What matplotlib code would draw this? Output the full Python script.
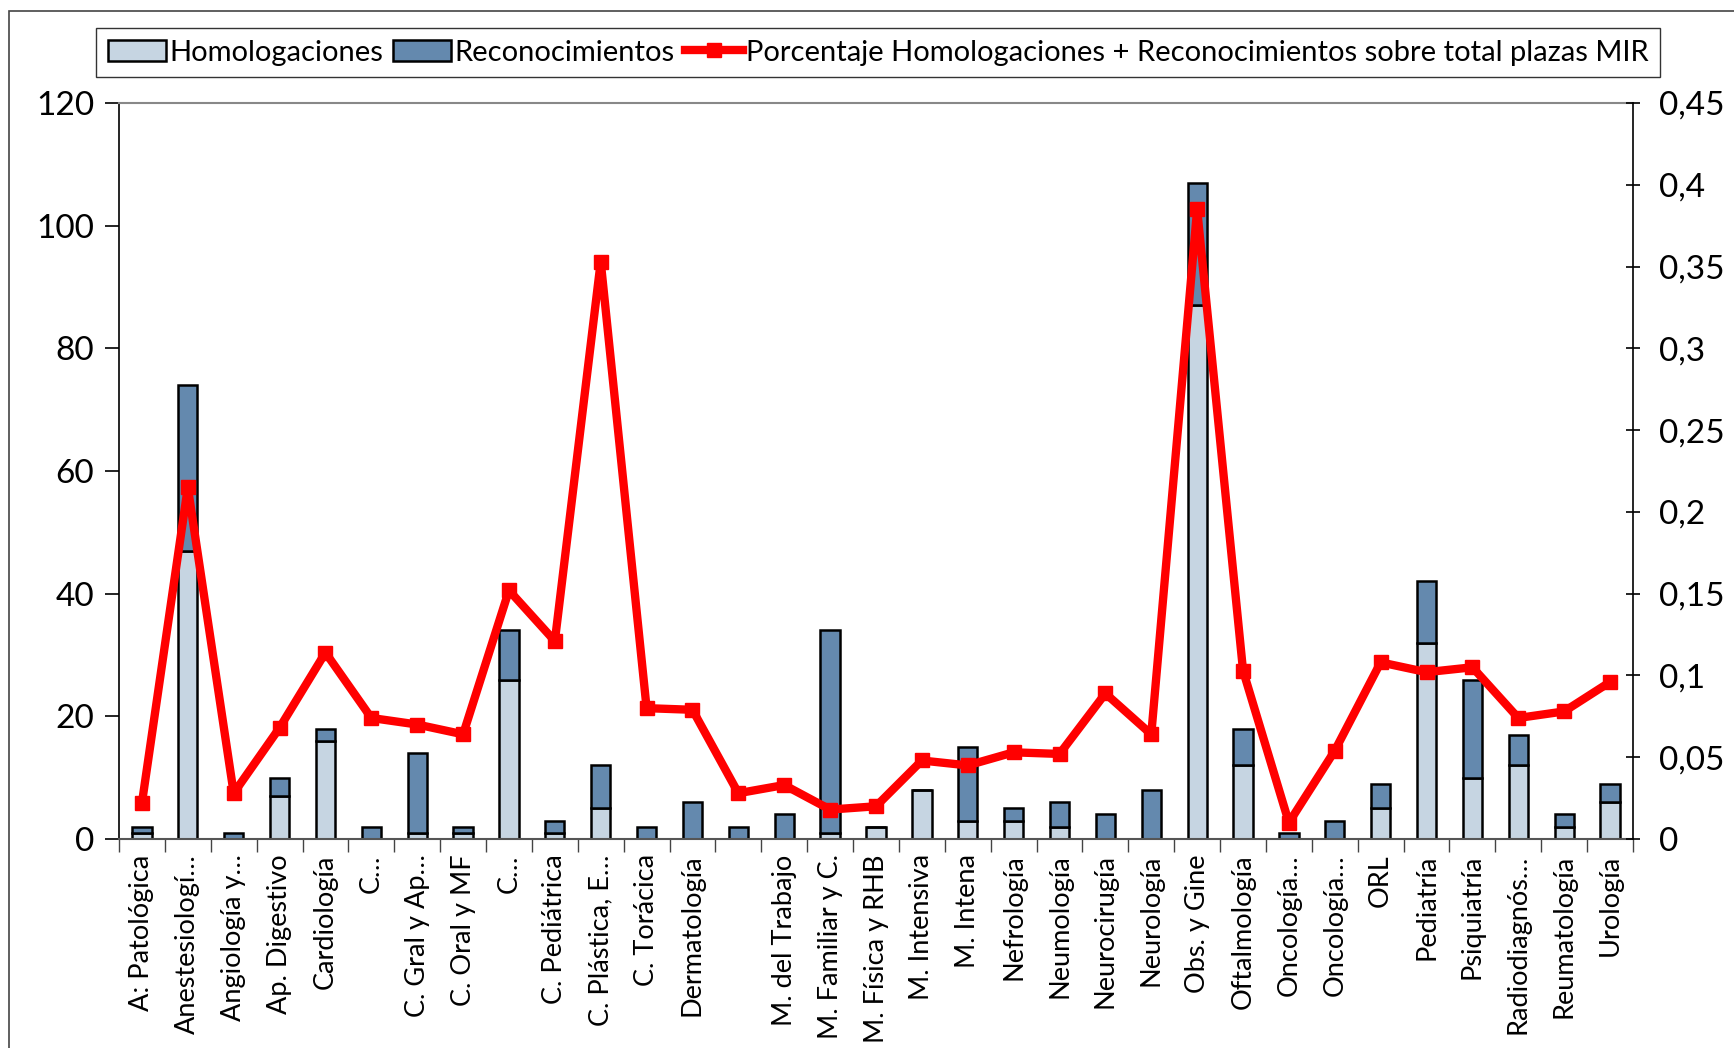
import numpy as np
import matplotlib
matplotlib.use("Agg")
import matplotlib.pyplot as plt
from matplotlib.patches import Rectangle
from matplotlib.lines import Line2D
from matplotlib.ticker import FuncFormatter

plt.rcParams['font.family'] = ['Lato', 'DejaVu Sans']

# Especialidades (etiquetas tal como aparecen, truncadas)
especialidades = [
    "A: Patológica", "Anestesiologí…", "Angiología y…", "Ap. Digestivo", "Cardiología",
    "C…", "C. Gral y Ap…", "C. Oral y MF", "C…", "C. Pediátrica",
    "C. Plástica, E…", "C. Torácica", "Dermatología", "", "M. del Trabajo",
    "M. Familiar y C.", "M. Física y RHB", "M. Intensiva", "M. Intena", "Nefrología",
    "Neumología", "Neurocirugía", "Neurología", "Obs. y Gine", "Oftalmología",
    "Oncología…", "Oncología…", "ORL", "Pediatría", "Psiquiatría",
    "Radiodiagnós…", "Reumatología", "Urología",
]

homologaciones = [1, 47, 0, 7, 16, 0, 1, 1, 26, 1,
                  5, 0, 0, 0, 0, 1, 2, 8, 3, 3,
                  2, 0, 0, 87, 12, 0, 0, 5, 32, 10,
                  12, 2, 6]

reconocimientos = [1, 27, 1, 3, 2, 2, 13, 1, 8, 2,
                   7, 2, 6, 2, 4, 33, 0, 0, 12, 2,
                   4, 4, 8, 20, 6, 1, 3, 4, 10, 16,
                   5, 2, 3]

porcentaje = [0.022, 0.215, 0.028, 0.068, 0.114, 0.074, 0.070, 0.064, 0.152, 0.121,
              0.353, 0.080, 0.079, 0.028, 0.033, 0.018, 0.020, 0.048, 0.045, 0.053,
              0.052, 0.089, 0.064, 0.385, 0.103, 0.010, 0.054, 0.108, 0.102, 0.105,
              0.074, 0.078, 0.096]

color_homo = "#C6D5E2"
color_reco = "#6489AE"

W, H = 1734, 1048
fig = plt.figure(figsize=(W / 100, H / 100), dpi=100)

# borde exterior del gráfico
fig.add_artist(Rectangle((9 / W, -0.05), 1.1, 1 - 11 / H + 0.05, transform=fig.transFigure,
                         fill=False, edgecolor="#444444", linewidth=1.2))

ax = fig.add_axes([119 / W, 1 - 839 / H, (1633 - 119) / W, (839 - 103) / H])
x = np.arange(len(especialidades))

ax.bar(x, homologaciones, width=0.42, color=color_homo, edgecolor="black", linewidth=1.8, zorder=2)
ax.bar(x, reconocimientos, width=0.42, bottom=homologaciones, color=color_reco,
       edgecolor="black", linewidth=1.8, zorder=2)

ax.set_xlim(-0.5, len(especialidades) - 0.5)
ax.set_ylim(0, 120)
ax.set_yticks(range(0, 121, 20))
ax.tick_params(axis="y", labelsize=24, length=10, width=1.2, pad=8, direction="out")

ax.set_xticks(x)
ax.set_xticklabels(especialidades, rotation=90, fontsize=19.5, va="top", ha="center")
ax.set_xticks(np.arange(-0.5, len(especialidades), 1), minor=True)
ax.tick_params(axis="x", which="major", length=0, pad=11)
ax.tick_params(axis="x", which="minor", length=9, width=1.0, color="#444444")

ax.spines["top"].set_color("#888888")
ax.spines["top"].set_linewidth(1.5)
ax.spines["bottom"].set_color("#555555")
ax.spines["bottom"].set_linewidth(1.5)
ax.spines["left"].set_linewidth(1.2)
ax.spines["right"].set_visible(False)

ax2 = ax.twinx()
ax2.plot(x, porcentaje, color="red", linewidth=6, marker="s", markersize=10, zorder=3)
ax2.set_ylim(0, 0.45)
ax2.set_yticks(np.arange(0, 0.451, 0.05))
ax2.yaxis.set_major_formatter(FuncFormatter(lambda v, p: f"{round(v, 2):g}".replace(".", ",")))
ax2.tick_params(axis="y", labelsize=24, length=10, width=1.2, pad=14, direction="inout")
ax2.spines["right"].set_linewidth(1.2)
for s in ["top", "bottom", "left"]:
    ax2.spines[s].set_visible(False)

handles = [
    Rectangle((0, 0), 1, 1, facecolor=color_homo, edgecolor="black", linewidth=1.8),
    Rectangle((0, 0), 1, 1, facecolor=color_reco, edgecolor="black", linewidth=1.8),
    Line2D([], [], color="red", linewidth=6, marker="s", markersize=10),
]
labels = ["Homologaciones", "Reconocimientos",
          "Porcentaje Homologaciones + Reconocimientos sobre total plazas MIR"]
leg = fig.legend(handles, labels, loc="upper left", bbox_to_anchor=(96 / W, 1 - 28 / H),
                 ncol=3, fontsize=21, frameon=True, fancybox=False, edgecolor="black",
                 handlelength=2.0, handletextpad=0.1, columnspacing=0.35, borderpad=0.4,
                 borderaxespad=0)
leg.get_frame().set_linewidth(1.0)

fig.savefig("out.png", dpi=100)
